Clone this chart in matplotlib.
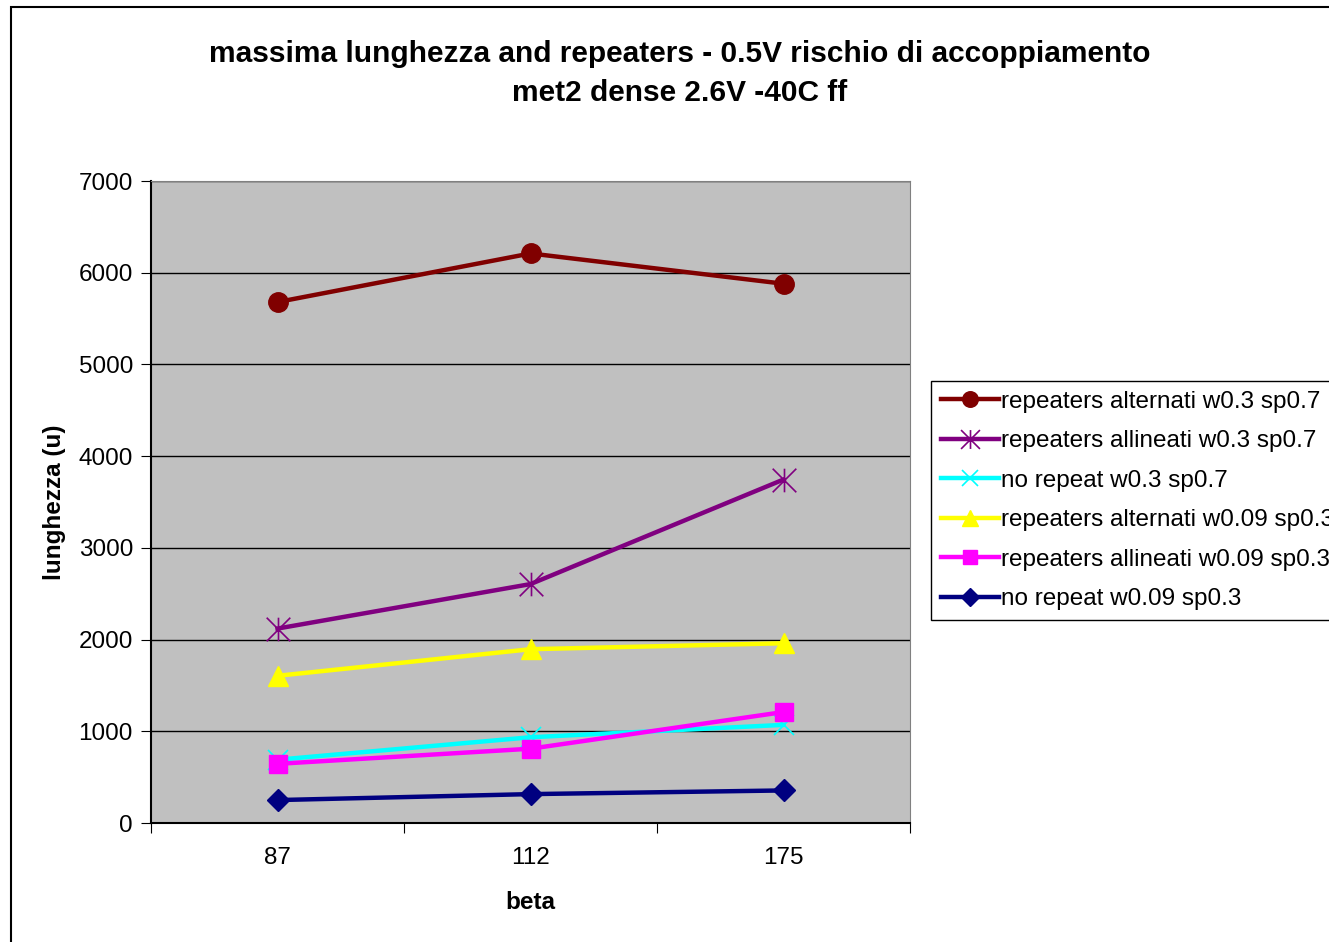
import matplotlib.pyplot as plt
from matplotlib.path import Path
from matplotlib.patches import Rectangle

plt.rcParams['font.family'] = ['Liberation Sans', 'DejaVu Sans']

# data
beta = ["87", "112", "175"]
alternati_w03 = [5680, 6210, 5880]
allineati_w03 = [2120, 2605, 3745]
norepeat_w03 = [690, 935, 1070]
alternati_w009 = [1605, 1895, 1960]
allineati_w009 = [645, 810, 1210]
norepeat_w009 = [250, 315, 355]

labels = ["repeaters alternati w0.3 sp0.7", "repeaters allineati w0.3 sp0.7",
          "no repeat w0.3 sp0.7", "repeaters alternati w0.09 sp0.3",
          "repeaters allineati w0.09 sp0.3", "no repeat w0.09 sp0.3"]

# asterisk marker like Excel's "star" (x plus vertical bar)
star = Path([(-1, -1), (1, 1), (-1, 1), (1, -1), (0, -1), (0, 1)],
            [Path.MOVETO, Path.LINETO, Path.MOVETO, Path.LINETO, Path.MOVETO, Path.LINETO])

fig = plt.figure(figsize=(13.29, 9.42), dpi=100)
fig.patches.append(Rectangle((11 / 1329, -0.1), 1.2, 1 - 7 / 942 + 0.1,
                             transform=fig.transFigure, fill=False,
                             edgecolor='black', linewidth=1.5))

ax = fig.add_axes([151 / 1329, 1 - 823 / 942, 759 / 1329, 642 / 942])
ax.set_facecolor('#c0c0c0')
x = range(len(beta))

ax.plot(x, alternati_w03, color='#800000', lw=3.2, marker='o', ms=14, label=labels[0])
ax.plot(x, allineati_w03, color='#800080', lw=3.2, marker=star, ms=17, mew=1.2,
        mec='#800080', label=labels[1])
ax.plot(x, norepeat_w03, color='#00ffff', lw=3.2, marker='x', ms=14, mew=1.2, label=labels[2])
ax.plot(x, alternati_w009, color='#ffff00', lw=3.2, marker='^', ms=15, label=labels[3])
ax.plot(x, allineati_w009, color='#ff00ff', lw=3.2, marker='s', ms=13, label=labels[4])
ax.plot(x, norepeat_w009, color='#000080', lw=3.2, marker='D', ms=11, label=labels[5])

ax.set_xlim(-0.5, 2.5)
ax.set_ylim(0, 7000)
ax.set_yticks(range(0, 7001, 1000))
ax.yaxis.grid(True, color='black', linewidth=1)
ax.set_axisbelow(True)
ax.set_xticks([-0.5, 0.5, 1.5, 2.5])
ax.set_xticklabels([])
ax.set_xticks(list(x), minor=True)
ax.set_xticklabels(beta, minor=True)
ax.tick_params(axis='x', which='major', direction='out', length=7, color='black')
ax.tick_params(axis='x', which='minor', length=0, pad=17, labelsize=17.5)
ax.tick_params(axis='y', direction='out', length=7, pad=6, labelsize=17.5)

ax.spines['top'].set_color('#808080')
ax.spines['right'].set_color('#808080')
ax.spines['left'].set_linewidth(1.5)
ax.spines['bottom'].set_linewidth(1.5)

ax.set_ylabel("lunghezza (u)", fontsize=17.5, fontweight='bold', labelpad=9)
ax.set_xlabel("beta", fontsize=17.5, fontweight='bold', labelpad=16)

fig.text(680 / 1329, 1 - 54 / 942, "massima lunghezza and repeaters - 0.5V rischio di accoppiamento",
         ha='center', va='center', fontsize=21.5, fontweight='bold')
fig.text(680 / 1329, 1 - 93 / 942, "met2 dense 2.6V -40C ff",
         ha='center', va='center', fontsize=21.5, fontweight='bold')

# legend runs past the right edge, as in the original
leg = fig.legend(loc='upper left', bbox_to_anchor=(931 / 1329, 1 - 381 / 942),
                 borderaxespad=0, fontsize=17.5, handlelength=2.4, handletextpad=0.1,
                 borderpad=0.4, labelspacing=0.72, markerscale=0.8,
                 fancybox=False, edgecolor='black', framealpha=1)
leg.get_frame().set_linewidth(1)

plt.savefig("out.png", dpi=100)
